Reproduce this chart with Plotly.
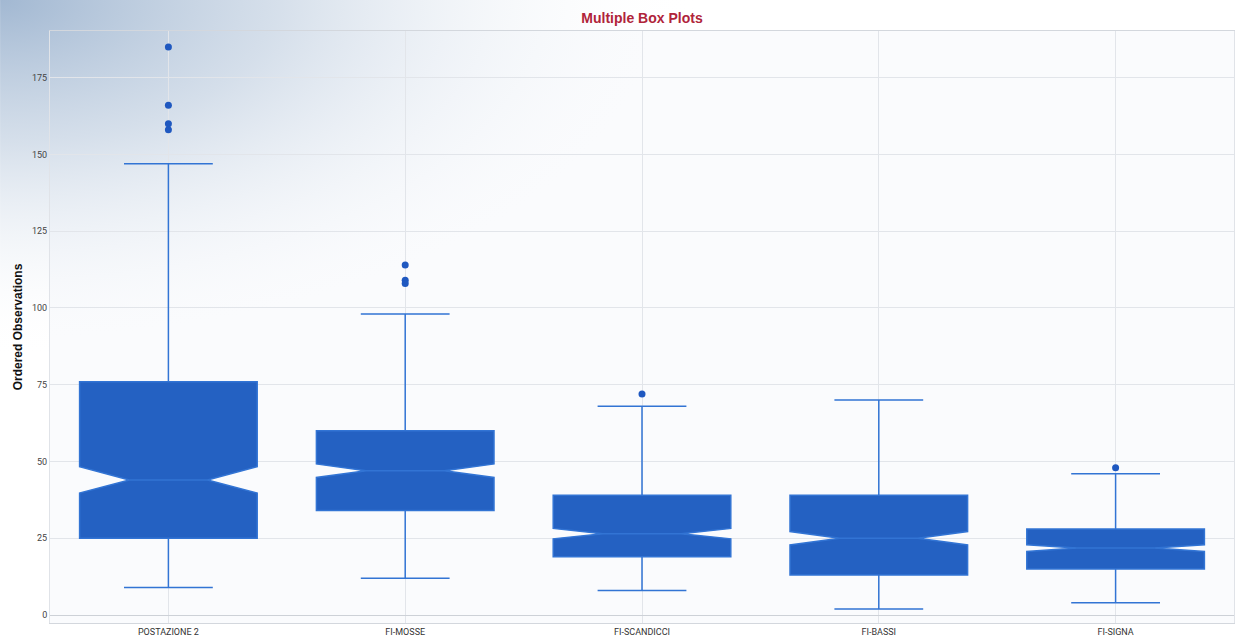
import plotly.graph_objects as go

categories = ["POSTAZIONE 2", "FI-MOSSE", "FI-SCANDICCI", "FI-BASSI", "FI-SIGNA"]
q1 = [25, 34, 19, 13, 15]
median = [44, 47, 26.5, 25, 21.8]
q3 = [76, 60, 39, 39, 28]
lower_fence = [9, 12, 8, 2, 4]
upper_fence = [147, 98, 68, 70, 46]
notch_span = [4.3, 2.2, 1.7, 2.2, 1.1]

outlier_cat = ["POSTAZIONE 2", "POSTAZIONE 2", "POSTAZIONE 2", "POSTAZIONE 2",
               "FI-MOSSE", "FI-MOSSE", "FI-MOSSE", "FI-SCANDICCI", "FI-SIGNA"]
outlier_val = [185, 166, 160, 158, 114, 109, 108, 72, 48]

y_ticks = [0, 25, 50, 75, 100, 125, 150, 175]

fig = go.Figure()
fig.add_trace(go.Box(
    x=categories, q1=q1, median=median, q3=q3,
    lowerfence=lower_fence, upperfence=upper_fence,
    notched=True, notchspan=notch_span, notchwidth=0.28,
    boxpoints=False, whiskerwidth=0.5,
    fillcolor="#2461C2", line=dict(color="#3274D4", width=1.5),
    showlegend=False,
))
fig.add_trace(go.Scatter(
    x=outlier_cat, y=outlier_val, mode="markers",
    marker=dict(color="#1F58C0", size=7), showlegend=False,
))

svg = ("data:image/svg+xml;utf8,<svg xmlns='http://www.w3.org/2000/svg' width='700' height='360' "
       "preserveAspectRatio='none'><defs><radialGradient id='g' cx='0' cy='0' r='1'>"
       "<stop offset='0' stop-color='%23A2B8D2'/><stop offset='0.4' stop-color='%23CCD8E6' stop-opacity='0.8'/>"
       "<stop offset='1' stop-color='%23ffffff' stop-opacity='0'/></radialGradient></defs>"
       "<rect width='700' height='360' fill='url(%23g)'/></svg>")

W, H = 1185, 592
fig.add_layout_image(dict(
    source=svg, xref="paper", yref="paper",
    x=-50 / W, y=1 + 31 / H, sizex=700 / W, sizey=360 / H,
    sizing="stretch", xanchor="left", yanchor="top", layer="below", opacity=1,
))

fig.update_layout(
    width=1243, height=640,
    margin=dict(l=50, r=9, t=31, b=17),
    paper_bgcolor="white", plot_bgcolor="rgba(246,248,251,0.6)",
    boxgap=0.25, boxgroupgap=0,
    title=dict(text="<b>Multiple Box Plots</b>", x=0.5, xref="paper", y=0.972, yanchor="middle",
               font=dict(family="Liberation Sans, Arial", size=14, color="#B0243A")),
    font=dict(family="Roboto", size=9, color="#444"),
)
fig.update_xaxes(
    type="category", showgrid=True, gridcolor="#E2E5EA", gridwidth=1,
    showline=True, linecolor="#D3D7DD", mirror=True, ticks="", automargin=False,
    tickfont=dict(family="Roboto", size=9, color="#333"), ticklabelstandoff=0,
)
fig.update_yaxes(
    range=[-2.6, 190.2], tickvals=y_ticks, showgrid=True, gridcolor="#E2E5EA",
    zeroline=True, zerolinecolor="#CDD1D7", zerolinewidth=1,
    showline=True, linecolor="#E0E3E8", mirror=True, ticks="", automargin=False,
    tickfont=dict(family="Roboto", size=9, color="#444"),
    title=dict(text="<b>Ordered Observations</b>", standoff=6,
               font=dict(family="Liberation Sans, Arial", size=12, color="#111")),
)

fig.write_html("out.html")
